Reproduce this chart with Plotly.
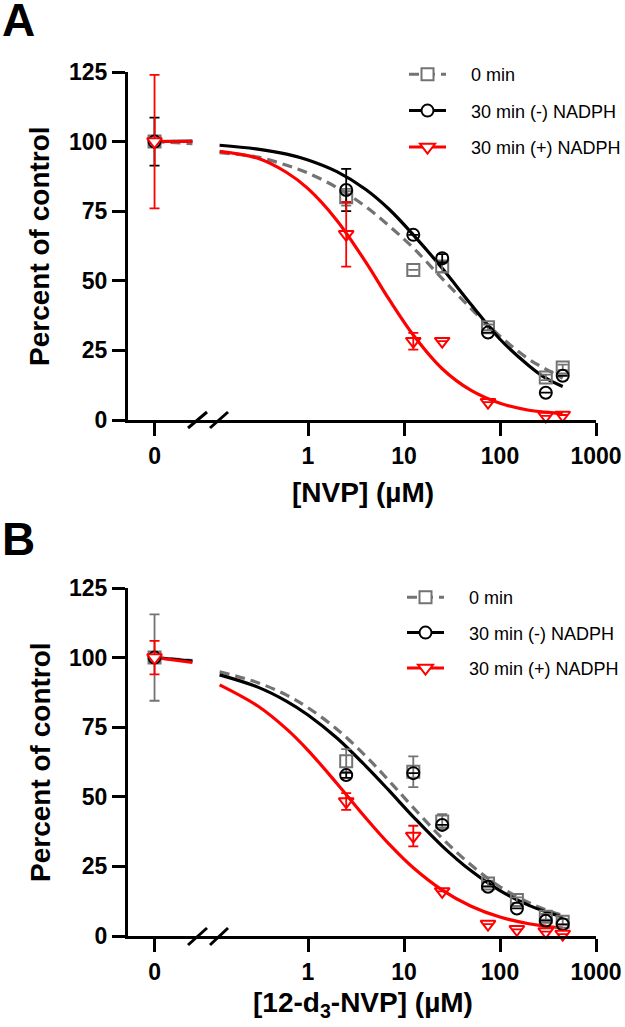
import plotly.graph_objects as go

# concentrations (uM)
conc_a = [2.5, 12.5, 25, 75, 300, 450]
conc_b = [2.5, 12.5, 25, 75, 150, 300, 450]

# panel A (NVP) - percent of control, mean and error
a_0min = [80.0, 53.9, 55.1, 33.3, 15.3, 18.9]
a_0min_err = [3.0, 0, 2.0, 1.0, 1.0, 1.0]
a_neg = [82.6, 66.5, 58.1, 31.4, 9.8, 15.9]
a_neg_err = [7.6, 0, 1.5, 0, 0, 0]
a_pos = [66.7, 28.3, 28.3, 6.4, 1.5, 1.8]
a_pos_err = [11.6, 3.0, 0, 0, 0, 0]
a_zero = [100, 100, 100]          # 0 min, (-) NADPH, (+) NADPH at 0 uM
a_zero_err = [2.0, 8.6, 24.0]

# panel B (12-d3-NVP)
b_0min = [62.8, 59.0, 41.1, 18.9, 12.9, 6.9, 5.1]
b_0min_err = [4.3, 5.5, 2.7, 1.0, 1.0, 1.0, 1.0]
b_neg = [57.8, 58.5, 39.9, 17.7, 9.9, 5.5, 4.2]
b_neg_err = [1.0, 0, 0, 0, 0, 0, 0]
b_pos = [48.3, 35.9, 16.0, 4.3, 2.4, 1.6, 0.7]
b_pos_err = [3.0, 3.7, 0, 0, 0, 0, 0]
b_zero = [100, 100, 100]
b_zero_err = [15.5, 1.0, 6.0]

# fitted curves
fit_x = [0.12, 0.3, 0.6, 1, 2, 4, 7, 12.5, 25, 50, 100, 200, 300, 450]
a_fit_0min = [96.0, 94.4, 91.5, 88.7, 83.5, 76.6, 69.7, 61.8, 50.8, 40.0, 30.1, 21.8, 18.3, 15.0]
a_fit_neg = [98.7, 97.3, 95.5, 93.4, 89.2, 82.8, 75.7, 66.5, 54.5, 41.5, 29.0, 19.5, 15.0, 12.0]
a_fit_pos = [96.5, 94.0, 88.9, 83.1, 71.7, 56.7, 43.3, 30.5, 18.4, 10.6, 6.0, 3.5, 2.8, 2.3]
b_fit_0min = [94.9, 91.0, 86.5, 82.0, 74.3, 64.6, 55.7, 46.1, 35.1, 25.5, 17.7, 12.0, 9.4, 7.4]
b_fit_neg = [93.8, 89.4, 84.3, 79.4, 71.1, 61.0, 52.2, 42.8, 32.3, 23.4, 16.3, 11.0, 8.7, 6.8]
b_fit_pos = [90.2, 82.6, 74.3, 66.7, 54.8, 42.4, 33.0, 24.5, 16.5, 10.7, 6.8, 4.4, 3.5, 2.8]

# short fitted stubs next to the 0 point
stub_x = [0, 1]
a_stub = [[100, 99.2], [100, 100.2], [100, 100]]
b_stub = [[100, 99.0], [100, 98.8], [100, 98.2]]

names = ["0 min", "30 min (-) NADPH", "30 min (+) NADPH"]
colors = ["#737373", "#000000", "#ff0000"]
symbols = ["square", "circle", "triangle-down"]
dashes = ["10px,6px", "solid", "solid"]

W, H = 625, 1027
ML, MR = 128, 29
PW = W - ML - MR
FONT = "Arial, 'Liberation Sans', sans-serif"


def px_x(p):
    return (p - ML) / PW


def px_y(p):
    return (H - p) / H


fig = go.Figure()

panels = [
    dict(xl="x", xr="x2", y="y", legend="legend", conc=conc_a,
         means=[a_0min, a_neg, a_pos], errs=[a_0min_err, a_neg_err, a_pos_err],
         zero=a_zero, zero_err=a_zero_err,
         fits=[a_fit_0min, a_fit_neg, a_fit_pos], stubs=a_stub),
    dict(xl="x3", xr="x4", y="y2", legend="legend2", conc=conc_b,
         means=[b_0min, b_neg, b_pos], errs=[b_0min_err, b_neg_err, b_pos_err],
         zero=b_zero, zero_err=b_zero_err,
         fits=[b_fit_0min, b_fit_neg, b_fit_pos], stubs=b_stub),
]

for p in panels:
    for i in range(3):
        c = colors[i]
        # fitted curve
        fig.add_trace(go.Scatter(
            x=fit_x, y=p["fits"][i], mode="lines", xaxis=p["xr"], yaxis=p["y"],
            line=dict(color=c, width=3.2, dash=dashes[i], shape="spline"),
            showlegend=False, hoverinfo="skip"))
        fig.add_trace(go.Scatter(
            x=stub_x, y=p["stubs"][i], mode="lines", xaxis=p["xl"], yaxis=p["y"],
            line=dict(color=c, width=3, dash=dashes[i]),
            showlegend=False, hoverinfo="skip"))
    for i in range(3):
        c = colors[i]
        mk = dict(symbol=symbols[i], size=12 if i < 2 else 13, color="white",
                  line=dict(color=c, width=2))
        eb = dict(color=c, thickness=1.8, width=5)
        fig.add_trace(go.Scatter(
            x=p["conc"], y=p["means"][i], mode="markers", xaxis=p["xr"], yaxis=p["y"],
            marker=dict(mk, color="rgba(255,255,255,0)"),
            error_y=dict(type="data", array=p["errs"][i], **eb),
            cliponaxis=False, showlegend=False))
        fig.add_trace(go.Scatter(
            x=[0], y=[p["zero"][i]], mode="markers", xaxis=p["xl"], yaxis=p["y"],
            marker=mk, error_y=dict(type="data", array=[p["zero_err"][i]], **eb),
            cliponaxis=False, showlegend=False))
        # legend entry
        fig.add_trace(go.Scatter(
            x=[None], y=[None], mode="lines+markers", name="\u00a0" * 4 + names[i],
            xaxis=p["xr"], yaxis=p["y"], legend=p["legend"], legendgroup=p["legend"] + str(i),
            line=dict(color=c, width=3, dash=dashes[i]), marker=mk))

axis_common = dict(showline=True, linecolor="black", linewidth=3, ticks="outside",
                   ticklen=13, tickwidth=3, tickcolor="black", showgrid=False,
                   zeroline=False, tickfont=dict(family=FONT, size=23, color="black", weight="bold"))

left_end = px_x(200)
doms = {"A": [px_y(420), px_y(72)], "B": [px_y(936), px_y(588)]}

fig.update_layout(
    width=W, height=H, margin=dict(l=ML, r=MR, t=0, b=0, autoexpand=False),
    plot_bgcolor="white", paper_bgcolor="white",
    font=dict(family=FONT, color="black"),
    xaxis=dict(axis_common, domain=[0, left_end], range=[-0.7, 1.2], anchor="y",
               tickvals=[0], ticktext=["0"]),
    xaxis2=dict(axis_common, domain=[left_end, 1], type="log", range=[-1.125, 3], anchor="y",
                tickvals=[1, 10, 100, 1000], ticktext=["1", "10", "100", "1000"]),
    yaxis=dict(axis_common, domain=doms["A"], range=[0, 125], anchor="x",
               tickvals=[0, 25, 50, 75, 100, 125]),
    xaxis3=dict(axis_common, domain=[0, left_end], range=[-0.7, 1.2], anchor="y2",
                tickvals=[0], ticktext=["0"]),
    xaxis4=dict(axis_common, domain=[left_end, 1], type="log", range=[-1.125, 3], anchor="y2",
                tickvals=[1, 10, 100, 1000], ticktext=["1", "10", "100", "1000"]),
    yaxis2=dict(axis_common, domain=doms["B"], range=[0, 125], anchor="x3",
                tickvals=[0, 25, 50, 75, 100, 125]),
    legend=dict(x=px_x(404), y=px_y(56), xanchor="left", yanchor="top",
                font=dict(size=18, family=FONT), itemwidth=37, tracegroupgap=10,
                bgcolor="rgba(0,0,0,0)"),
    legend2=dict(x=px_x(402), y=px_y(579), xanchor="left", yanchor="top",
                 font=dict(size=18, family=FONT), itemwidth=37, tracegroupgap=9,
                 bgcolor="rgba(0,0,0,0)"),
)

# axis break marks
for y0, y1 in [(428, 412), (945, 928)]:
    for xa, xb in [(188, 207), (210, 228)]:
        fig.add_shape(type="line", xref="paper", yref="paper",
                      x0=px_x(xa), y0=px_y(y0), x1=px_x(xb), y1=px_y(y1),
                      line=dict(color="black", width=3))

bold = dict(family=FONT, color="black", weight="bold")
annots = [
    dict(text="A", x=px_x(0), y=px_y(-8), xanchor="left", yanchor="top", font=dict(bold, size=46)),
    dict(text="B", x=px_x(0), y=px_y(511), xanchor="left", yanchor="top", font=dict(bold, size=46)),
    dict(text="Percent of control", x=px_x(40), y=px_y(246), textangle=-90,
         xanchor="center", yanchor="middle", font=dict(bold, size=28)),
    dict(text="Percent of control", x=px_x(40), y=px_y(762), textangle=-90,
         xanchor="center", yanchor="middle", font=dict(bold, size=28)),
    dict(text="[NVP] (µM)", x=px_x(363), y=px_y(492), xanchor="center", yanchor="middle",
         font=dict(bold, size=28)),
    dict(text="[12-d<sub>3</sub>-NVP] (µM)", x=px_x(363), y=px_y(1004), xanchor="center",
         yanchor="middle", font=dict(bold, size=28)),
]
for a in annots:
    fig.add_annotation(xref="paper", yref="paper", showarrow=False, **a)

fig.write_html("out.html", config={"displayModeBar": False},
               post_script="document.body.style.margin='0px';")
